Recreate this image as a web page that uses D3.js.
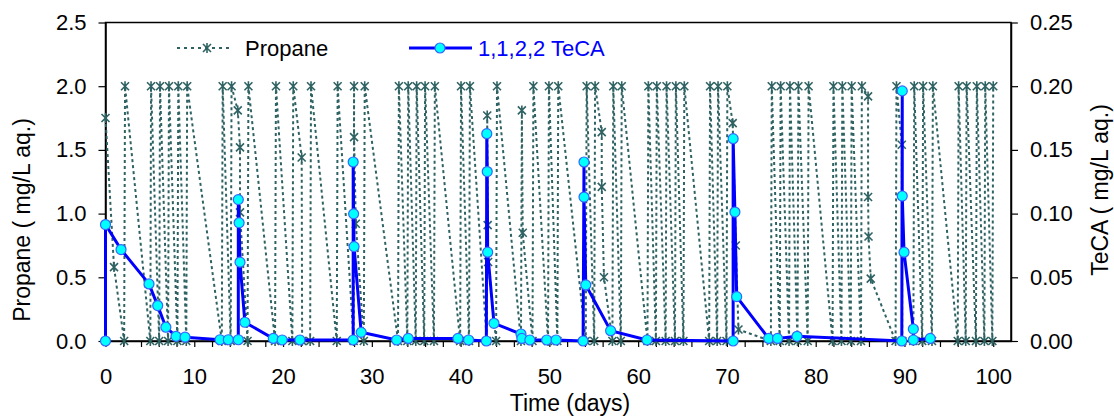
<!DOCTYPE html>
<html>
<head>
<meta charset="utf-8">
<script src="https://cdn.jsdelivr.net/npm/d3@7"></script>
<style>
  body { margin: 0; background: #fff; }
  text { font-family: "Liberation Sans", Arial, sans-serif; }
</style>
</head>
<body>
<div id="chart"></div>
<script>
// propane (left axis) - day / mg/L pairs
const propaneDays = [0, 0.96, 2.1, 2.2,
  5.05, 5.13, 6.05, 6.14, 7.05, 7.15, 8.1, 8.2, 9.1, 9.2,
  13.1, 13.2, 14.1, 14.2, 14.9, 15.15, 15.15, 16.0, 16.1,
  19.1, 19.2, 21.05, 21.15, 22.1, 22.15, 23.05, 23.15, 26.05, 26.15,
  27.95, 28.0, 28.0, 28.2, 29.1, 29.2,
  32.95, 33.05, 34.0, 34.1, 34.95, 35.05, 35.9, 36.0, 37.0, 37.1,
  39.95, 40.05, 40.95, 41.05, 42.95, 43.0, 43.05, 43.1, 44.0, 44.1,
  46.8, 46.9, 47.0, 48.1, 48.2, 49.85, 49.95, 50.9, 51.0,
  54.1, 54.2, 55.05, 55.15, 55.9, 55.9, 56.15, 57.1, 57.2, 58.05, 58.15,
  61.05, 61.15, 62.0, 62.1, 63.1, 63.2, 64.15, 64.25, 65.1, 65.2,
  68.0, 68.1, 68.9, 69.0, 69.95, 70.05, 70.65, 71.0, 71.3,
  74.95, 75.05, 75.95, 76.05, 77.0, 77.1, 77.95, 78.05, 79.1, 79.2,
  81.9, 82.0, 82.9, 83.0, 83.95, 84.05, 85.1, 85.2, 85.9, 85.9, 85.95, 86.2,
  89.0, 89.1, 89.7, 89.75, 91.0, 91.1, 92.0, 92.1, 93.1, 93.2,
  96.0, 96.1, 96.9, 97.0, 98.05, 98.15, 99.0, 99.1, 99.9, 100.0];
const propaneVals = [1.75, 0.58, 0, 2.0,
  0, 2.0, 0, 2.0, 0, 2.0, 0, 2.0, 0, 2.0,
  0, 2.0, 0, 2.0, 1.81, 1.52, 1.01, 0, 2.0,
  0, 2.0, 0, 2.0, 1.44, 0, 0, 2.0, 0, 2.0,
  0, 2.0, 1.6, 0.92, 0, 2.0,
  0, 2.0, 0, 2.0, 0, 2.0, 0, 2.0, 0, 2.0,
  0, 2.0, 0, 2.0, 0, 1.77, 0.91, 0.62, 0, 2.0,
  0, 1.81, 0.85, 0, 2.0, 0, 2.0, 0, 2.0,
  0, 2.0, 0, 2.0, 1.64, 1.21, 0.5, 0, 2.0, 0, 2.0,
  0, 2.0, 0, 2.0, 0, 2.0, 0, 2.0, 0, 2.0,
  0, 2.0, 0, 2.0, 0, 2.0, 1.71, 0.75, 0.09,
  0, 2.0, 0, 2.0, 0, 2.0, 0, 2.0, 0, 2.0,
  0, 2.0, 0, 2.0, 0, 2.0, 0, 2.0, 1.92, 1.13, 0.82, 0.49,
  0, 2.0, 1.54, 0, 0, 2.0, 0, 2.0, 0, 2.0,
  0, 2.0, 0, 2.0, 0, 2.0, 0, 2.0, 0, 2.0];

// 1,1,2,2 TeCA (right axis)
const tecaDays = [0, 0, 1.75, 4.9, 5.88, 6.8, 7.94, 8.96, 12.9, 13.83,
  14.96, 14.96, 15.05, 15.15, 15.7, 18.9, 19.9, 21.9,
  27.9, 27.9, 27.95, 28.0, 28.8, 32.8, 34.1, 39.7, 40.9,
  42.9, 42.95, 43.0, 43.05, 43.76, 46.8, 46.9, 47.8, 49.7, 50.75,
  53.8, 53.9, 53.9, 54.1, 56.9, 61.0,
  70.7, 70.7, 70.9, 71.1, 74.7, 75.7, 77.9,
  89.7, 89.75, 89.75, 89.95, 91.0, 91.0, 92.9];
const tecaVals = [0, 0.0914, 0.0718, 0.0448, 0.0278, 0.0108, 0.0037, 0.003, 0.001, 0.001,
  0.001, 0.111, 0.0928, 0.0619, 0.0147, 0.002, 0.0008, 0.0008,
  0.0008, 0.1405, 0.0998, 0.0741, 0.0068, 0.0008, 0.002, 0.002, 0.0008,
  0, 0.1627, 0.133, 0.0697, 0.0139, 0.0055, 0.002, 0.0008, 0.0008, 0.0008,
  0, 0.1405, 0.113, 0.044, 0.0081, 0.0008,
  0, 0.1588, 0.1012, 0.0348, 0.002, 0.002, 0.0037,
  0, 0.1963, 0.1138, 0.0697, 0.0094, 0.0008, 0.002];

const xTicks = [0, 10, 20, 30, 40, 50, 60, 70, 80, 90, 100];
const yLeftTicks = [0, 0.5, 1.0, 1.5, 2.0, 2.5];
const yRightTicks = [0, 0.05, 0.10, 0.15, 0.20, 0.25];

const width = 1114, height = 417;
const mLeft = 105.5, mRight = 1011, mTop = 22.5, mBottom = 341;
const propaneColor = "#2f6262";

const svg = d3.select("#chart").append("svg")
  .attr("width", width).attr("height", height);

const x = d3.scaleLinear().domain([0, 102]).range([mLeft, mRight]);
const yL = d3.scaleLinear().domain([0, 2.5]).range([mBottom, mTop]);
const yR = d3.scaleLinear().domain([0, 0.25]).range([mBottom, mTop]);

// frame
svg.append("rect")
  .attr("x", mLeft).attr("y", mTop)
  .attr("width", mRight - mLeft).attr("height", mBottom - mTop)
  .attr("fill", "none").attr("stroke", "#000").attr("stroke-width", 1.5);

// axes
const minor = d3.range(0, 101, 2);
const xAxis = svg.append("g")
  .attr("transform", `translate(0,${mBottom})`)
  .call(d3.axisBottom(x).tickValues(minor).tickSize(6).tickSizeOuter(0).tickPadding(21)
    .tickFormat(d => xTicks.includes(d) ? d : ""));

const yAxisL = svg.append("g")
  .attr("transform", `translate(${mLeft},0)`)
  .call(d3.axisLeft(yL).tickValues(yLeftTicks).tickSize(7).tickSizeOuter(0).tickPadding(12)
    .tickFormat(d3.format(".1f")));

const yAxisR = svg.append("g")
  .attr("transform", `translate(${mRight},0)`)
  .call(d3.axisRight(yR).tickValues(yRightTicks).tickSize(7).tickSizeOuter(0).tickPadding(12)
    .tickFormat(d3.format(".2f")));

[xAxis, yAxisL, yAxisR].forEach(g => {
  g.select(".domain").attr("stroke", "#000").attr("stroke-width", 1.5);
  g.selectAll(".tick line").attr("stroke", "#000").attr("stroke-width", 1.2);
  g.selectAll("text").attr("font-size", 22).attr("fill", "#000")
    .attr("font-family", "'Liberation Sans', Arial, sans-serif");
});

// axis titles
svg.append("text")
  .attr("x", 570).attr("y", 411)
  .attr("text-anchor", "middle").attr("font-size", 23)
  .text("Time (days)");

svg.append("text")
  .attr("transform", "translate(30,220) rotate(-90)")
  .attr("text-anchor", "middle").attr("font-size", 23)
  .text("Propane ( mg/L aq.)");

svg.append("text")
  .attr("transform", "translate(1108,190) rotate(-90)")
  .attr("text-anchor", "middle").attr("font-size", 23)
  .text("TeCA ( mg/L aq.)");

// propane series
const propane = propaneDays.map((d, i) => ({ d, v: propaneVals[i] }));
const teca = tecaDays.map((d, i) => ({ d, v: tecaVals[i] }));

const star = "M-4,-4L4,4M-4,4L4,-4M0,-5L0,5";

svg.append("path")
  .datum(propane)
  .attr("fill", "none")
  .attr("stroke", propaneColor)
  .attr("stroke-width", 2)
  .attr("stroke-dasharray", "3,3")
  .attr("d", d3.line().x(p => x(p.d)).y(p => yL(p.v)));

svg.append("g").selectAll("path")
  .data(propane)
  .enter().append("path")
  .attr("transform", p => `translate(${x(p.d)},${yL(p.v)})`)
  .attr("d", star)
  .attr("stroke", propaneColor)
  .attr("stroke-width", 1.6)
  .attr("fill", "none");

// TeCA series
svg.append("path")
  .datum(teca)
  .attr("fill", "none")
  .attr("stroke", "#0000ff")
  .attr("stroke-width", 3)
  .attr("d", d3.line().x(p => x(p.d)).y(p => yR(p.v)));

svg.append("g").selectAll("circle")
  .data(teca)
  .enter().append("circle")
  .attr("cx", p => x(p.d))
  .attr("cy", p => yR(p.v))
  .attr("r", 5)
  .attr("fill", "#00ffff")
  .attr("stroke", "#3366ff")
  .attr("stroke-width", 1.2);

// legend
const lg = svg.append("g");
lg.append("line")
  .attr("x1", 177).attr("x2", 233).attr("y1", 48).attr("y2", 48)
  .attr("stroke", propaneColor).attr("stroke-width", 2).attr("stroke-dasharray", "3,4");
lg.append("path")
  .attr("transform", "translate(207,48)")
  .attr("d", star).attr("stroke", propaneColor).attr("stroke-width", 1.6).attr("fill", "none");
lg.append("text")
  .attr("x", 245).attr("y", 56).attr("font-size", 22).text("Propane");

lg.append("line")
  .attr("x1", 409).attr("x2", 472).attr("y1", 48).attr("y2", 48)
  .attr("stroke", "#0000ff").attr("stroke-width", 3);
lg.append("circle")
  .attr("cx", 440).attr("cy", 48).attr("r", 5)
  .attr("fill", "#00ffff").attr("stroke", "#3366ff").attr("stroke-width", 1.2);
lg.append("text")
  .attr("x", 478).attr("y", 56).attr("font-size", 22).attr("fill", "#0000ff")
  .text("1,1,2,2 TeCA");
</script>
</body>
</html>
